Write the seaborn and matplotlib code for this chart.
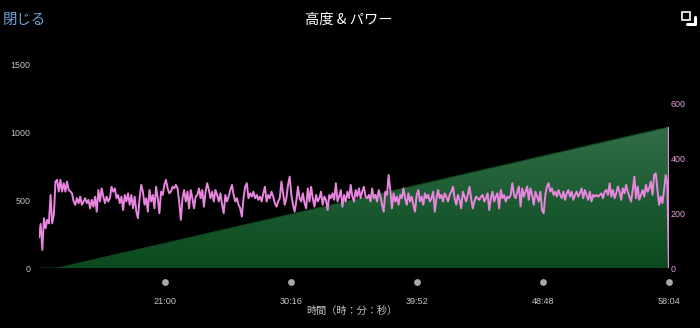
import numpy as np
import matplotlib
matplotlib.use("Agg")
import matplotlib.pyplot as plt
import seaborn as sns
import pandas as pd
from matplotlib.colors import LinearSegmentedColormap
from matplotlib.patches import Rectangle
from matplotlib.lines import Line2D
import matplotlib.transforms as mtransforms

# ---------------- data ----------------
power = [
    111, 161, 66, 182, 145, 176, 163, 267, 163, 194, 316, 322, 279, 322, 279, 310, 279, 316, 285, 280,
    273, 243, 231, 255, 237, 261, 231, 243, 255, 237, 249, 218, 249, 224, 261, 206, 285, 243, 291, 261,
    237, 261, 243, 255, 297, 279, 291, 255, 267, 237, 261, 212, 267, 243, 273, 231, 267, 218, 261, 206,
    182, 255, 304, 279, 231, 255, 206, 285, 243, 267, 218, 297, 255, 200, 279, 267, 304, 322, 291, 273,
    279, 297, 291, 304, 291, 243, 176, 255, 285, 243, 279, 218, 285, 255,
    218, 261, 267, 291, 255, 285, 224, 279, 310, 285, 255, 279, 243, 285, 267, 243, 273, 231, 200, 267,
    243, 261, 285, 304, 267, 243, 255, 231, 218, 188, 255, 297, 310, 255, 273, 261, 279, 255, 267, 249,
    261, 243, 273, 297, 243, 267, 255, 279, 261, 237, 224, 243, 255, 316, 273, 231, 255, 304, 334, 267,
    231, 206, 243, 297, 255, 243, 273, 237, 218, 291, 243, 297, 255, 224, 267, 243, 255, 279, 231, 261,
    249, 212, 267, 255, 273, 249, 310, 243, 261, 285, 224, 267, 243, 279, 255, 304, 261, 243,
    285, 261, 291, 255, 279, 297, 261, 255, 267, 243, 291, 255, 267, 243, 285, 261, 231, 206, 279, 267,
    340, 285, 218, 273, 243, 261, 231, 267, 255, 291, 255, 231, 273, 243, 261, 231, 206, 267, 285, 243,
    261, 231, 273, 255, 267, 243, 255, 279, 206, 255, 285, 255, 267, 243, 273, 261, 243, 267, 279, 297,
    255, 231, 267, 249, 218, 279, 261, 243, 267, 297, 255, 218, 243, 261, 255, 249, 261, 267, 243, 255,
    273, 212, 255, 279, 243, 261, 273, 218, 285, 255, 267, 243, 261, 255, 267, 310, 267, 255,
    279, 298, 225, 291, 261, 279, 298, 249, 291, 267, 231, 279, 261, 243, 279, 212, 200, 267, 298, 310,
    279, 291, 267, 279, 261, 285, 267, 255, 279, 249, 273, 285, 261, 279, 249, 267, 279, 261, 273, 291,
    255, 285, 267, 249, 279, 243, 267, 261, 267, 261, 267, 273, 255, 279, 285, 267, 310, 261, 285, 255,
    273, 298, 279, 249, 291, 273, 304, 279, 261, 243, 285, 334, 255, 298, 249, 267, 285, 261, 304, 279,
    291, 316, 267, 340, 346, 285, 231, 261, 237, 285, 340, 310, 0,
]
alt_pct = [0, 3, 10, 20, 30, 40, 50, 60, 70, 80, 90, 100]
altitude = [0, 0, 75, 182, 290, 397, 505, 612, 720, 827, 935, 1042]
tick_pct = [20, 40, 60, 80, 100]
tick_labels = ["21:00", "30:16", "39:52", "48:48", "58:04"]
left_ticks = [0, 500, 1000, 1500]
right_ticks = [0, 200, 400, 600]

title = "高度 & パワー"
close_text = "閉じる"
xlabel = "時間（時：分：秒）"

# ---------------- style ----------------
sns.set_style("dark", {"axes.facecolor": "black", "figure.facecolor": "black"})
plt.rcParams["font.family"] = ["Liberation Sans", "Noto Sans CJK JP", "DejaVu Sans"]

PINK = "#ea86df"
GRAY = "#c4c4c4"
W, H = 700, 328

fig = plt.figure(figsize=(7, 3.28), dpi=100, facecolor="black")
ax = fig.add_axes([39 / W, 1 - 268 / H, 630 / W, 203 / H])
ax.set_facecolor("black")

df_pow = pd.DataFrame({"pct": np.linspace(0, 100, len(power)), "power": power})
df_alt = pd.DataFrame({"pct": alt_pct, "alt": altitude})

# altitude area with vertical gradient
poly = ax.fill_between(df_alt["pct"], df_alt["alt"], 0, facecolor="none", edgecolor="none")
cmap = LinearSegmentedColormap.from_list("g", ["#0a4a1e", "#316e47"])
grad = np.linspace(0, 1, 256).reshape(-1, 1)
im = ax.imshow(grad, cmap=cmap, extent=[0, 100, 0, max(altitude)], origin="lower",
               aspect="auto", zorder=1)
im.set_clip_path(poly.get_paths()[0], transform=ax.transData)
sns.lineplot(data=df_alt, x="pct", y="alt", ax=ax, color="#0d4a1f", linewidth=0.8, zorder=2)

ax.set_xlim(0, 100)
ax.set_ylim(0, 1500)
ax.set_yticks(left_ticks)
ax.set_yticklabels([str(t) for t in left_ticks])
ax.tick_params(axis="y", colors=GRAY, labelsize=6.4, length=0, pad=6)
ax.set_xticks(tick_pct)
ax.set_xticklabels(tick_labels)
ax.tick_params(axis="x", colors=GRAY, labelsize=6.6, length=0, pad=21)
ax.set_xlabel("")
ax.set_ylabel("")
ax.grid(False)
for s in ax.spines.values():
    s.set_visible(False)

# power on right axis
ax2 = ax.twinx()
ax2.set_facecolor("none")
sns.lineplot(data=df_pow, x="pct", y="power", ax=ax2, color=PINK, linewidth=1.4)
ax2.vlines(alt_pct[-1], 0, altitude[-1] * 742 / 1500, color=PINK, linewidth=1.6)
ax2.set_ylim(0, 742)
ax2.set_xlim(0, 100)
ax2.set_yticks(right_ticks)
ax2.set_yticklabels([str(t) for t in right_ticks])
ax2.tick_params(axis="y", colors="#e8a2df", labelsize=6.4, length=0, pad=1)
ax2.set_ylabel("")
ax2.set_xlabel("")
ax2.grid(False)
for s in ax2.spines.values():
    s.set_visible(False)

# tick dots
trans = mtransforms.blended_transform_factory(ax.transData, ax.transAxes)
ax.scatter(tick_pct, [-14 / 203] * len(tick_pct), transform=trans, s=24,
           color="#a8a8a8", clip_on=False, zorder=5, linewidths=0)

# texts
fig.text(352 / W, 1 - 311 / H, xlabel, color=GRAY, fontsize=7.3, ha="center", va="center",
         family=["Noto Sans CJK JP", "DejaVu Sans"])
fig.text(349 / W, 1 - 20 / H, title, color="white", fontsize=10.3, ha="center", va="center",
         family=["Noto Sans CJK JP", "DejaVu Sans"])
fig.text(3 / W, 1 - 20 / H, close_text, color="#6fa6dc", fontsize=10.4, ha="left", va="center",
         family=["Noto Sans CJK JP", "DejaVu Sans"])

# top-right icon
fig.add_artist(Rectangle((682 / W, 1 - 20 / H), 8 / W, 8 / H, fill=False,
                         edgecolor="white", linewidth=1.2, transform=fig.transFigure))
fig.add_artist(Line2D([687 / W, 695 / W, 695 / W], [1 - 24 / H, 1 - 24 / H, 1 - 17 / H],
                      color="white", linewidth=2.2, transform=fig.transFigure))

fig.savefig("out.png", dpi=100, facecolor="black")
